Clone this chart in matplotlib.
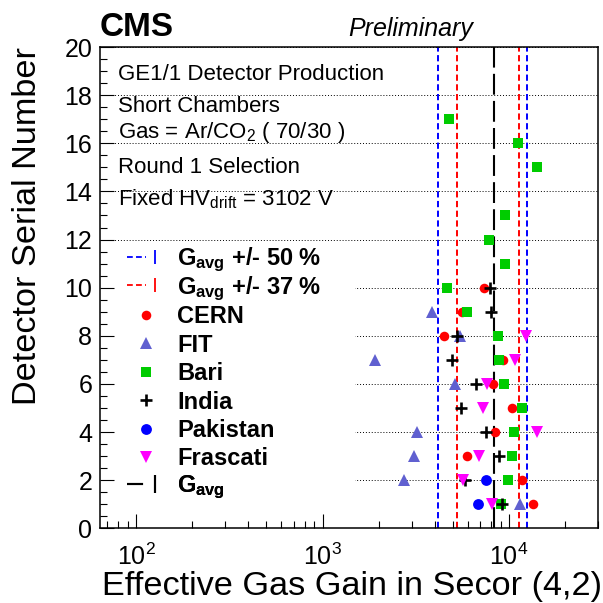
import matplotlib
matplotlib.use("Agg")
import matplotlib.pyplot as plt
import numpy as np
from matplotlib.lines import Line2D
from matplotlib.patches import Rectangle
from matplotlib.legend_handler import HandlerTuple
from matplotlib.ticker import LogLocator, NullFormatter, MultipleLocator

plt.rcParams['font.family'] = ['Liberation Sans', 'DejaVu Sans']
plt.rcParams['mathtext.fontset'] = 'custom'
plt.rcParams['mathtext.rm'] = 'Liberation Sans'
plt.rcParams['mathtext.it'] = 'Liberation Sans:italic'
plt.rcParams['mathtext.bf'] = 'Liberation Sans:bold'

# Effective gas gain per detector serial number, one list pair per site
cernSerial = [10, 9, 8, 7, 6, 5, 4, 3, 2, 1]
cernGain = [7350, 5570, 4490, 9310, 8240, 10420, 8420, 5970, 11700, 13390]

fitSerial = [9, 8, 7, 6, 4, 3, 2, 1]
fitGain = [3840, 5460, 1920, 5160, 3215, 3085, 2720, 11460]

bariSerial = [17, 16, 15, 13, 12, 11, 10, 9, 8, 7, 6, 5, 4, 3, 2, 1]
bariGain = [4740, 11170, 14190, 9510, 7780, 9480, 4625, 5970, 8690, 8870,
            9400, 11800, 10670, 10320, 9910, 9060]

indiaSerial = [10, 9, 8, 7, 6, 5, 4, 3, 2, 1]
indiaGain = [7910, 7980, 5270, 4950, 6620, 5560, 7500, 8830, 5800, 9140]

pakistanSerial = [2, 1]
pakistanGain = [7500, 6840]

frascatiSerial = [8, 7, 6, 5, 4, 3, 2, 1]
frascatiGain = [12330, 10760, 7590, 7280, 14100, 6920, 5680, 8070]

# Average gain and the two acceptance bands
gAvg = 8300
band50 = 0.50
band37 = 0.37

infoLines = ["GE1/1 Detector Production",
             "Short Chambers",
             "Gas = Ar/CO$_2$ ( 70/30 )",
             "Round 1 Selection",
             "Fixed HV$_{\\mathrm{drift}}$ = 3102 V"]

fig = plt.figure(figsize=(6.03, 6.03), dpi=100)
ax = fig.add_axes([0.1658, 0.1239, 0.8259, 0.7981])

ax.set_xscale('log')
ax.set_xlim(64, 30000)
ax.set_ylim(0, 20)

# Dotted horizontal grid, drawn by hand so the legend box can hide it
for yv in np.arange(0, 21, 2):
    ax.axhline(yv, color='k', ls=(0, (1, 2)), lw=0.7, zorder=1)

# White box behind the legend
ax.add_patch(Rectangle((0.0, 0.038), 0.512, 0.553, transform=ax.transAxes,
                       facecolor='white', edgecolor='none', zorder=1.5))

# Average and band lines
blueDash = (0, (3.2, 1.8))
redDash = (0, (3.2, 1.8))
ax.axvline(gAvg * (1 - band50), color='#0000ff', ls=blueDash, lw=1.4, zorder=2)
ax.axvline(gAvg * (1 + band50), color='#0000ff', ls=blueDash, lw=1.4, zorder=2)
ax.axvline(gAvg * (1 - band37), color='#ff0000', ls=redDash, lw=1.4, zorder=2)
ax.axvline(gAvg * (1 + band37), color='#ff0000', ls=redDash, lw=1.4, zorder=2)
ax.axvline(gAvg, color='k', ls=(0, (10, 3)), lw=1.5, zorder=2)

# Site points
hCern, = ax.plot(cernGain, cernSerial, 'o', color='#ff0000', ms=6.9, mew=0, ls='none', zorder=3)
hFit, = ax.plot(fitGain, fitSerial, '^', color='#6060d0', ms=8, mew=0, ls='none', zorder=3)
hBari, = ax.plot(bariGain, bariSerial, 's', color='#00cc00', ms=6.9, mew=0, ls='none', zorder=3)
hIndia, = ax.plot(indiaGain, indiaSerial, '+', color='k', ms=8.6, mew=1.9, ls='none', zorder=3)
hPak, = ax.plot(pakistanGain, pakistanSerial, 'o', color='#0000ff', ms=7.8, mew=0, ls='none', zorder=3)
hFras, = ax.plot(frascatiGain, frascatiSerial, 'v', color='#ff00ff', ms=8.5, mew=0, ls='none', zorder=3)

# Axes styling
ax.set_axisbelow(False)
ax.xaxis.set_major_locator(LogLocator(base=10))
ax.xaxis.set_minor_locator(LogLocator(base=10, subs=np.arange(2, 10)))
ax.xaxis.set_minor_formatter(NullFormatter())
ax.yaxis.set_major_locator(MultipleLocator(2))
ax.yaxis.set_minor_locator(MultipleLocator(0.5))
ax.tick_params(which='both', direction='in', top=False, right=False, width=0.8)
ax.tick_params(which='major', length=10)
ax.tick_params(which='minor', length=5)
ax.tick_params(axis='x', which='major', labelsize=18, pad=11)
ax.tick_params(axis='y', which='major', labelsize=18, pad=5.5)
for sp in ax.spines.values():
    sp.set_linewidth(1.1)

ax.set_xlabel("Effective Gas Gain in Secor (4,2)", fontsize=24.7, ha='right', va='baseline')
ax.xaxis.set_label_coords(1.008, -0.1386)
ax.set_ylabel("Detector Serial Number", fontsize=24.7)
ax.yaxis.label.set_rotation_mode('anchor')
ax.yaxis.label.set_horizontalalignment('right')
ax.yaxis.label.set_verticalalignment('center')
ax.yaxis.set_label_coords(-0.145, 1.0)

# Info text block
infoY = [0.9314, 0.8656, 0.8103, 0.7376, 0.6717]
for txt, yy in zip(infoLines, infoY):
    ax.text(0.0361, yy, txt, transform=ax.transAxes, fontsize=16, va='baseline', ha='left')

fig.text(0.1658, 0.940, "CMS", fontsize=24, fontweight='bold', va='baseline')
fig.text(0.577, 0.940, "Preliminary", fontsize=18, style='italic', va='baseline')

# Legend, one row per entry so every row gets the same pitch
h50 = (Line2D([], [], color='#0000ff', ls=blueDash, lw=1.3),
       Line2D([], [], color='#0000ff', marker='|', ms=10, mew=1.3, ls='none'))
h37 = (Line2D([], [], color='#ff0000', ls=redDash, lw=1.3),
       Line2D([], [], color='#ff0000', marker='|', ms=10, mew=1.3, ls='none'))
hAvg = (Line2D([], [], color='k', ls=(0, (7.7, 4.8)), lw=1.5),
        Line2D([], [], color='k', marker='|', ms=13, mew=1.5, ls='none'))
handles = [h50, h37, hCern, hFit, hBari, hIndia, hPak, hFras, hAvg]
labels = ["G$_{\\mathbf{avg}}$ +/- 50 %", "G$_{\\mathbf{avg}}$ +/- 37 %", "CERN", "FIT",
          "Bari", "India", "Pakistan", "Frascati", "G$_{\\mathbf{avg}}$"]
legTop = 0.5574
legStep = 0.0590
for i, (hd, lb) in enumerate(zip(handles, labels)):
    leg = ax.legend([hd], [lb], loc='center left',
                    bbox_to_anchor=(0.0542, legTop - i * legStep),
                    frameon=False, prop={'size': 17, 'weight': 'bold'}, numpoints=1,
                    handlelength=1.61, handletextpad=0.51,
                    borderpad=0, borderaxespad=0,
                    handler_map={tuple: HandlerTuple(ndivide=None)})
    ax.add_artist(leg)

fig.savefig("out.png", dpi=100)
